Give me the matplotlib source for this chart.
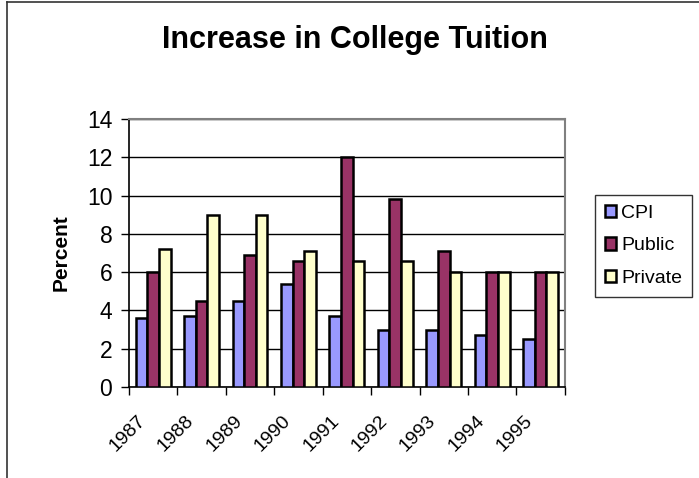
import numpy as np
import matplotlib.pyplot as plt
from matplotlib.lines import Line2D

plt.rcParams['font.family'] = ['Liberation Sans', 'DejaVu Sans']

years = ['1987', '1988', '1989', '1990', '1991', '1992', '1993', '1994', '1995']
cpi = [3.6, 3.7, 4.5, 5.4, 3.7, 3.0, 3.0, 2.7, 2.5]
public = [6.0, 4.5, 6.9, 6.6, 12.0, 9.8, 7.1, 6.0, 6.0]
private = [7.2, 9.0, 9.0, 7.1, 6.6, 6.6, 6.0, 6.0, 6.0]

fig = plt.figure(figsize=(6.99, 4.78), dpi=100)
ax = fig.add_axes([0.1845, 0.1904, 0.6235, 0.5606])

x = np.arange(len(years))
w = 0.24
ax.bar(x - w, cpi, w, color='#9999FF', edgecolor='black', linewidth=1.8, label='CPI', zorder=3)
ax.bar(x, public, w, color='#993366', edgecolor='black', linewidth=1.8, label='Public', zorder=3)
ax.bar(x + w, private, w, color='#FFFFCC', edgecolor='black', linewidth=1.8, label='Private', zorder=3)

ax.set_xlim(-0.5, len(years) - 0.5)
ax.set_ylim(0, 14)
ax.set_yticks(np.arange(0, 15, 2))
ax.yaxis.grid(True, color='black', linewidth=1)
ax.set_axisbelow(True)

# year labels sit left of each group centre, as in the original
ax.set_xticks(x - 0.34)
ax.set_xticklabels(years, rotation=45, ha='right', va='top', rotation_mode='anchor')
ax.set_xticks(np.arange(-0.5, len(years)), minor=True)
ax.tick_params(axis='x', which='major', length=0, labelsize=14, pad=18)
ax.tick_params(axis='x', which='minor', length=6, width=1, color='black')
ax.tick_params(axis='y', length=6, width=1, labelsize=16.5, pad=6)

for s in ['left', 'bottom']:
    ax.spines[s].set_color('black')
    ax.spines[s].set_linewidth(1.2)
for s in ['top', 'right']:
    ax.spines[s].set_color('#808080')
    ax.spines[s].set_linewidth(1.5)

ax.set_ylabel('Percent', fontsize=15, fontweight='bold', labelpad=12)
fig.text(0.508, 0.916, 'Increase in College Tuition', ha='center', va='center',
         fontsize=22, fontweight='bold')

leg = ax.legend(loc='upper left', bbox_to_anchor=(595 / 699, 1 - 195 / 478),
                bbox_transform=fig.transFigure, fontsize=14,
                frameon=True, fancybox=False, edgecolor='black',
                handlelength=0.6, handleheight=0.6, handletextpad=0.25,
                borderpad=0.5, labelspacing=0.8, borderaxespad=0)
leg.get_frame().set_linewidth(1)

# chart area border (left and top edges visible)
fig.lines.append(Line2D([7 / 699, 7 / 699], [0, 1 - 2 / 478], transform=fig.transFigure,
                        color='#333333', linewidth=1.2))
fig.lines.append(Line2D([7 / 699, 1], [1 - 2 / 478, 1 - 2 / 478], transform=fig.transFigure,
                        color='#333333', linewidth=1.2))

fig.savefig('out.png', dpi=100)
